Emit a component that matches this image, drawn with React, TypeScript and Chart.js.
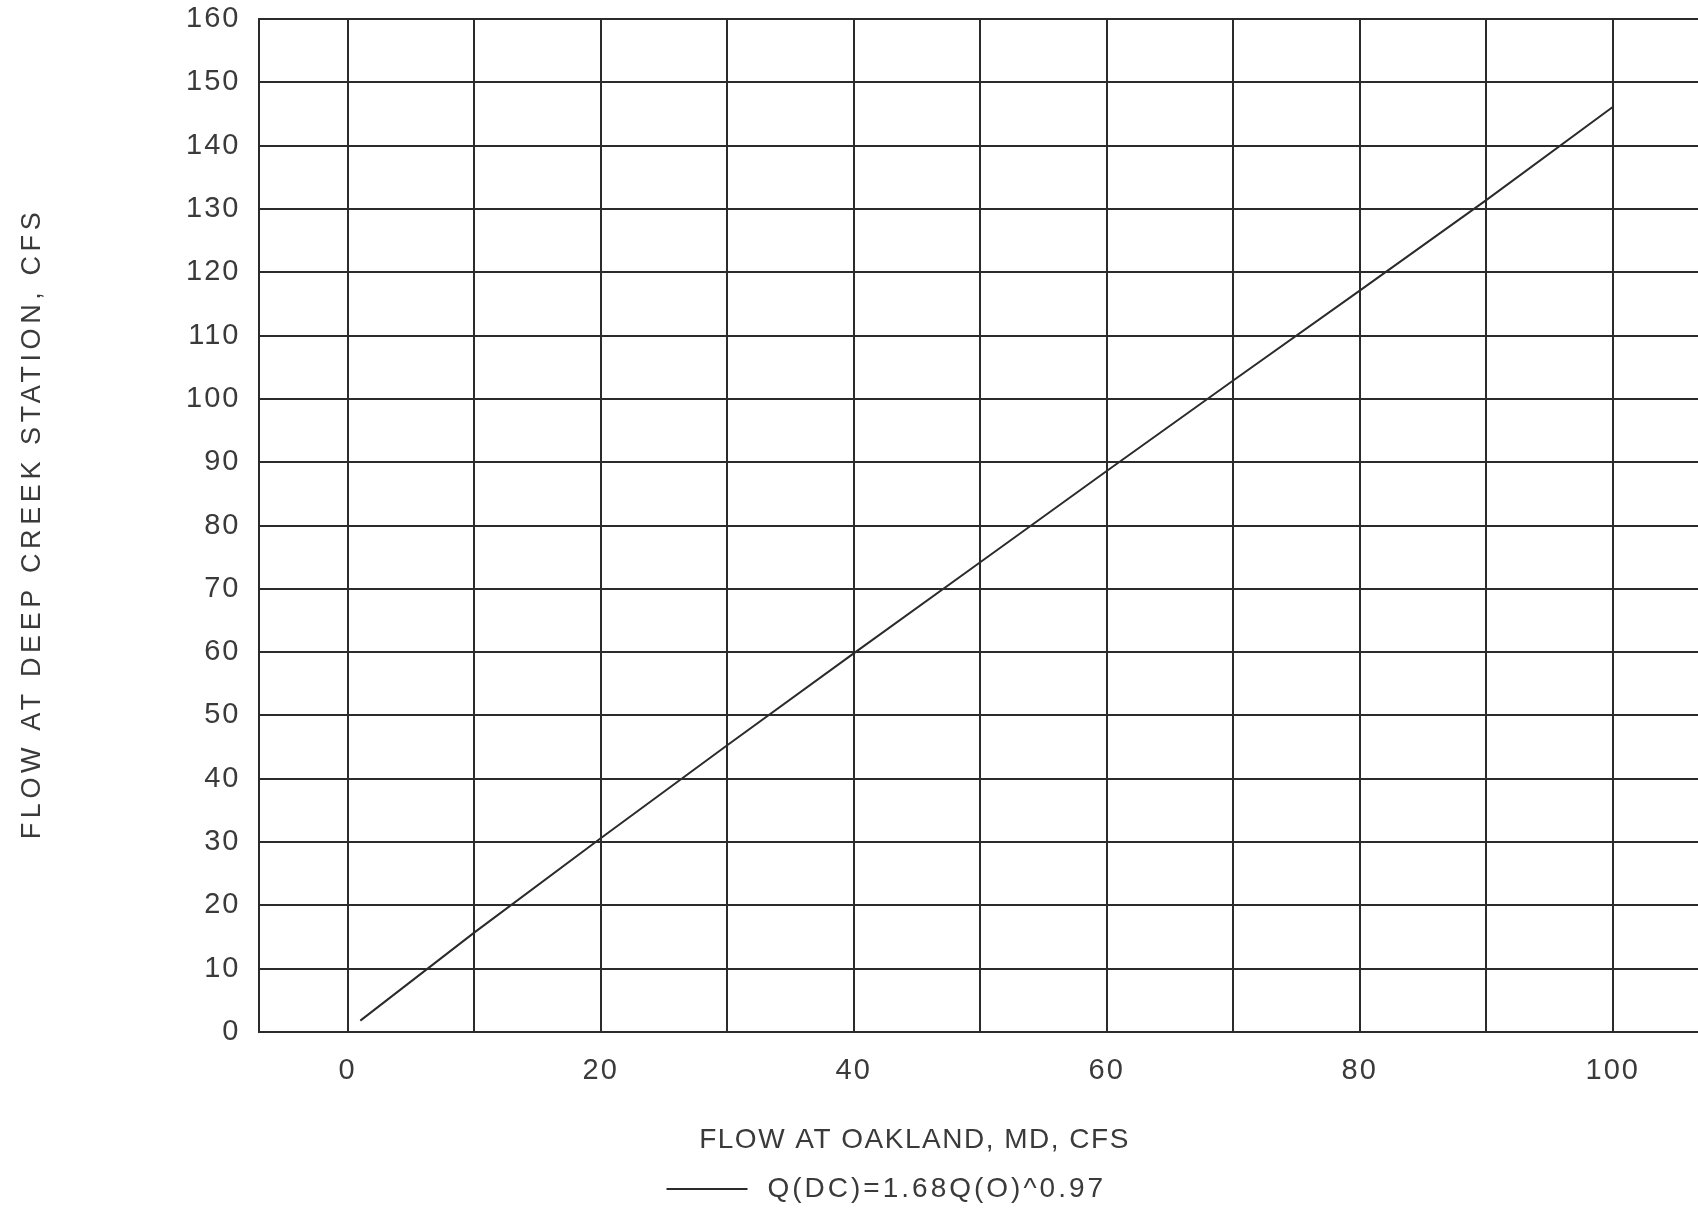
import React, { useEffect, useRef } from "react";
import { Chart, registerables } from "chart.js";

Chart.register(...registerables);

// ---- Data ----
const flowOakland = [1, 10, 20, 30, 40, 50, 60, 70, 80, 90, 100];
const flowDeepCreek = [1.8, 15.7, 30.6, 45.3, 59.8, 74.2, 88.6, 102.9, 117.1, 131.4, 146.1];
const seriesLabel = "Q(DC)=1.68Q(O)^0.97";
const xTitle = "FLOW AT OAKLAND, MD, CFS";
const yTitle = "FLOW AT DEEP CREEK STATION, CFS";
const xGridValues = [0, 10, 20, 30, 40, 50, 60, 70, 80, 90, 100];
const xLabeledValues = [0, 20, 40, 60, 80, 100];
const yTickValues = [0, 10, 20, 30, 40, 50, 60, 70, 80, 90, 100, 110, 120, 130, 140, 150, 160];
const xRange = [-7.05, 106.74];
const yRange = [0, 160];

const FONT = "'Liberation Sans', Arial, sans-serif";
const INK = "#2b2b2b";
const TEXT = "#3a3a3a";

const textPlugin = {
  id: "cadTexts",
  beforeDraw(chart: any) {
    chart.ctx.letterSpacing = "2px";
  },
  afterDraw(chart: any) {
    const ctx = chart.ctx;
    const area = chart.chartArea;
    ctx.save();
    ctx.fillStyle = TEXT;
    ctx.textBaseline = "middle";
    ctx.textAlign = "center";

    // y axis title
    ctx.save();
    ctx.font = `27px ${FONT}`;
    ctx.letterSpacing = "4.6px";
    ctx.translate(33, (area.top + area.bottom) / 2);
    ctx.rotate(-Math.PI / 2);
    ctx.fillText(yTitle, 2, 0);
    ctx.restore();

    // x axis title
    ctx.font = `28px ${FONT}`;
    ctx.letterSpacing = "1.5px";
    ctx.fillText(xTitle, area.left + 656, area.bottom + 108);

    // legend
    const ds = chart.data.datasets[0];
    const ly = area.bottom + 157;
    ctx.strokeStyle = ds.borderColor;
    ctx.lineWidth = 2;
    ctx.beginPath();
    ctx.moveTo(area.left + 408, ly);
    ctx.lineTo(area.left + 489, ly);
    ctx.stroke();
    ctx.font = `28px ${FONT}`;
    ctx.letterSpacing = "3px";
    ctx.textAlign = "left";
    ctx.fillText(ds.label, area.left + 509, ly);
    ctx.restore();
    ctx.letterSpacing = "0px";
  },
};

export default function App() {
  const ref = useRef<HTMLCanvasElement | null>(null);

  useEffect(() => {
    if (!ref.current) return;
    const chart = new Chart(ref.current, {
      type: "line",
      data: {
        datasets: [
          {
            label: seriesLabel,
            data: flowOakland.map((x, i) => ({ x, y: flowDeepCreek[i] })),
            borderColor: INK,
            borderWidth: 2,
            pointRadius: 0,
            tension: 0,
            fill: false,
          },
        ],
      },
      options: {
        animation: false,
        responsive: false,
        maintainAspectRatio: false,
        layout: { padding: { top: 19, left: 0, right: 0, bottom: 0 } },
        plugins: {
          legend: { display: false },
          tooltip: { enabled: false },
          title: { display: false },
        },
        scales: {
          x: {
            type: "linear",
            min: xRange[0],
            max: xRange[1],
            afterBuildTicks: (scale: any) => {
              scale.ticks = xGridValues.map((v) => ({ value: v }));
            },
            afterFit: (scale: any) => {
              scale.height = 1210 - 1032;
              scale.paddingLeft = 0;
              scale.paddingRight = 0;
            },
            ticks: {
              autoSkip: false,
              maxRotation: 0,
              padding: 22,
              color: TEXT,
              font: { family: FONT, size: 29 },
              callback: (v: any) => (xLabeledValues.includes(Number(v)) ? String(v) : ""),
            },
            grid: { color: INK, lineWidth: 2, drawTicks: false },
            border: { display: true, color: INK, width: 2 },
            title: { display: false },
          },
          y: {
            type: "linear",
            min: yRange[0],
            max: yRange[1],
            afterBuildTicks: (scale: any) => {
              scale.ticks = yTickValues.map((v) => ({ value: v }));
            },
            afterFit: (scale: any) => {
              scale.width = 258.5;
              scale.paddingTop = 0;
              scale.paddingBottom = 0;
            },
            ticks: {
              autoSkip: false,
              padding: 18,
              color: TEXT,
              font: { family: FONT, size: 29 },
              callback: (v: any) => String(v),
            },
            grid: { color: INK, lineWidth: 2, drawTicks: false },
            border: { display: true, color: INK, width: 2 },
            title: { display: false },
          },
        },
      },
      plugins: [textPlugin],
    });
    return () => chart.destroy();
  }, []);

  return (
    <div
      style={{
        position: "fixed",
        left: 0,
        top: 0,
        width: 1698,
        height: 1210,
        overflow: "hidden",
        background: "#ffffff",
      }}
    >
      <canvas ref={ref} width={1698} height={1210} style={{ display: "block" }} />
    </div>
  );
}
